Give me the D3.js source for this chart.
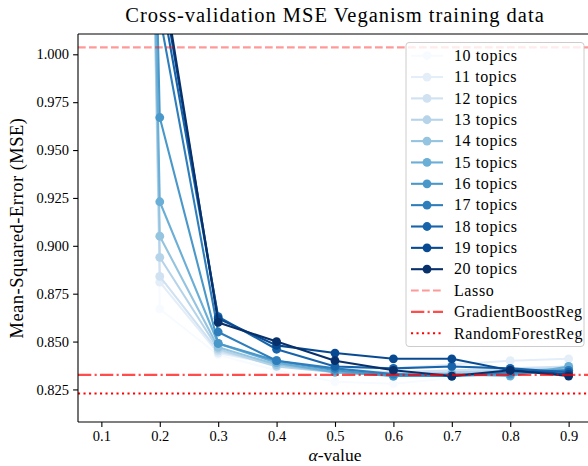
<!DOCTYPE html>
<html>
<head>
<meta charset="utf-8">
<script src="https://cdn.jsdelivr.net/npm/d3@7"></script>
<style>
  html, body { margin: 0; padding: 0; background: #fff; }
  svg { display: block; }
  text { font-family: "Liberation Serif", "Times New Roman", serif; fill: #000; }
</style>
</head>
<body>
<svg id="chart" width="588" height="466"></svg>
<script>
// ---------------- data ----------------
const alphas = [0.1, 0.2, 0.3, 0.4, 0.5, 0.6, 0.7, 0.8, 0.9];
const topicCounts = [10, 11, 12, 13, 14, 15, 16, 17, 18, 19, 20];
const mse10 = [2.60, 0.867, 0.843, 0.835, 0.829, 0.828, 0.831, 0.835, 0.836];
const mse11 = [2.55, 0.881, 0.844, 0.838, 0.836, 0.836, 0.838, 0.840, 0.841];
const mse12 = [2.50, 0.884, 0.845, 0.838, 0.835, 0.834, 0.835, 0.836, 0.837];
const mse13 = [2.45, 0.894, 0.846, 0.837, 0.834, 0.833, 0.834, 0.835, 0.836];
const mse14 = [2.40, 0.905, 0.847, 0.838, 0.834, 0.833, 0.833, 0.834, 0.836];
const mse15 = [2.35, 0.923, 0.849, 0.839, 0.834, 0.832, 0.833, 0.832, 0.837];
const mse16 = [2.30, 0.967, 0.849, 0.840, 0.835, 0.832, 0.832, 0.833, 0.835];
const mse17 = [2.80, 1.020, 0.855, 0.840, 0.836, 0.833, 0.832, 0.834, 0.835];
const mse18 = [2.90, 1.035, 0.863, 0.846, 0.837, 0.836, 0.837, 0.836, 0.834];
const mse19 = [3.00, 1.045, 0.862, 0.848, 0.844, 0.841, 0.841, 0.835, 0.833];
const mse20 = [3.10, 1.050, 0.860, 0.850, 0.840, 0.835, 0.832, 0.835, 0.832];
const seriesValues = [mse10, mse11, mse12, mse13, mse14, mse15, mse16, mse17, mse18, mse19, mse20];
const lassoMSE = 1.0036;
const gradientBoostMSE = 0.8326;
const randomForestMSE = 0.8229;
const xTickValues = [0.1, 0.2, 0.3, 0.4, 0.5, 0.6, 0.7, 0.8, 0.9];
const yTickValues = [0.825, 0.850, 0.875, 0.900, 0.925, 0.950, 0.975, 1.000];
const titleText = "Cross-validation MSE Veganism training data";
const yLabelText = "Mean-Squared-Error (MSE)";

// ---------------- layout ----------------
const svg = d3.select("#chart");
const L = 78, R = 592, T = 34, B = 422;
const x = d3.scaleLinear().domain([0.06, 0.94]).range([L, R]);
const y = d3.scaleLinear().domain([0.808, 1.0106]).range([B, T]);

// matplotlib "Blues" colormap (linear segments)
const bluesStops = ["#f7fbff","#deebf7","#c6dbef","#9ecae1","#6baed6","#4292c6","#2171b5","#08519c","#08306b"];
const blues = d3.piecewise(d3.interpolateRgb, bluesStops);
const colorFor = i => blues(i / (topicCounts.length - 1));

svg.append("defs").append("clipPath").attr("id", "plotclip")
  .append("rect").attr("x", L).attr("y", T).attr("width", R - L).attr("height", B - T);

const plot = svg.append("g").attr("clip-path", "url(#plotclip)");

const line = d3.line().x((d, i) => x(alphas[i])).y(d => y(d));
const LW = 2.1, MR = 4.4;

seriesValues.forEach((vals, i) => {
  const c = colorFor(i);
  const g = plot.append("g");
  g.append("path").attr("d", line(vals)).attr("fill", "none")
    .attr("stroke", c).attr("stroke-width", LW).attr("stroke-linejoin", "round");
  g.selectAll("circle").data(vals).join("circle")
    .attr("cx", (d, j) => x(alphas[j])).attr("cy", d => y(d)).attr("r", MR)
    .attr("fill", c);
});

// reference lines
const refLines = [
  { v: lassoMSE, label: "Lasso", color: "rgba(255,0,0,0.4)", dash: "7.7,3.3" },
  { v: gradientBoostMSE, label: "GradientBoostReg", color: "rgba(255,0,0,0.7)", dash: "13.3,3.3,2.1,3.3" },
  { v: randomForestMSE, label: "RandomForestReg", color: "rgba(255,0,0,1)", dash: "2.1,3.4" }
];
refLines.forEach(r => {
  plot.append("line").attr("x1", L).attr("x2", R).attr("y1", y(r.v)).attr("y2", y(r.v))
    .attr("stroke", r.color).attr("stroke-width", LW).attr("stroke-dasharray", r.dash);
});

// axes
const xAxis = d3.axisBottom(x).tickValues(xTickValues).tickFormat(d3.format(".1f")).tickSize(4.9).tickPadding(4);
const yAxis = d3.axisLeft(y).tickValues(yTickValues).tickFormat(d3.format(".3f")).tickSize(4.9).tickPadding(4);
const gx = svg.append("g").attr("transform", `translate(0,${B})`).call(xAxis);
const gy = svg.append("g").attr("transform", `translate(${L},0)`).call(yAxis);
[gx, gy].forEach(g => {
  g.select(".domain").remove();
  g.selectAll(".tick line").attr("stroke", "#000").attr("stroke-width", 1.1);
  g.selectAll(".tick text").attr("font-family", "Liberation Serif").attr("font-size", 14.5).attr("fill", "#000");
});

// spines
svg.append("line").attr("x1", L).attr("x2", L).attr("y1", T).attr("y2", B).attr("stroke", "#000").attr("stroke-width", 1.1);
svg.append("line").attr("x1", L).attr("x2", R).attr("y1", B).attr("y2", B).attr("stroke", "#000").attr("stroke-width", 1.1);
svg.append("line").attr("x1", L).attr("x2", R).attr("y1", T).attr("y2", T).attr("stroke", "#000").attr("stroke-width", 1.1);
svg.append("line").attr("x1", R).attr("x2", R).attr("y1", T).attr("y2", B).attr("stroke", "#000").attr("stroke-width", 1.1);

// title and labels
svg.append("text").attr("x", (L + R) / 2).attr("y", 22).attr("text-anchor", "middle")
  .attr("font-size", 20.5).attr("letter-spacing", 1.0).text(titleText);
svg.append("text").attr("transform", `translate(23,${(T + B) / 2}) rotate(-90)`).attr("text-anchor", "middle")
  .attr("font-size", 18.5).attr("letter-spacing", 0.5).text(yLabelText);
const xl = svg.append("text").attr("x", (L + R) / 2).attr("y", 461).attr("text-anchor", "middle").attr("font-size", 17.5);
xl.append("tspan").attr("font-style", "italic").text("α");
xl.append("tspan").text("-value");

// legend
const leg = svg.append("g");
leg.append("rect").attr("x", 406).attr("y", 42.5).attr("width", 178).attr("height", 304).attr("rx", 3)
  .attr("fill", "rgba(255,255,255,0.8)").attr("stroke", "#cccccc").attr("stroke-width", 1);
const rowY = i => 55.7 + i * 21.35;
topicCounts.forEach((t, i) => {
  const c = colorFor(i), yy = rowY(i);
  leg.append("line").attr("x1", 411).attr("x2", 443).attr("y1", yy).attr("y2", yy).attr("stroke", c).attr("stroke-width", LW);
  leg.append("circle").attr("cx", 427).attr("cy", yy).attr("r", MR).attr("fill", c);
  leg.append("text").attr("x", 454).attr("y", yy).attr("dy", "0.33em").attr("font-size", 16).attr("letter-spacing", 0.6).text(`${t} topics`);
});
refLines.forEach((r, k) => {
  const yy = rowY(topicCounts.length + k);
  leg.append("line").attr("x1", 411).attr("x2", 443).attr("y1", yy).attr("y2", yy)
    .attr("stroke", r.color).attr("stroke-width", LW).attr("stroke-dasharray", r.dash);
  leg.append("text").attr("x", 454).attr("y", yy).attr("dy", "0.33em").attr("font-size", 16).attr("letter-spacing", 0.6).text(r.label);
});
</script>
</body>
</html>
